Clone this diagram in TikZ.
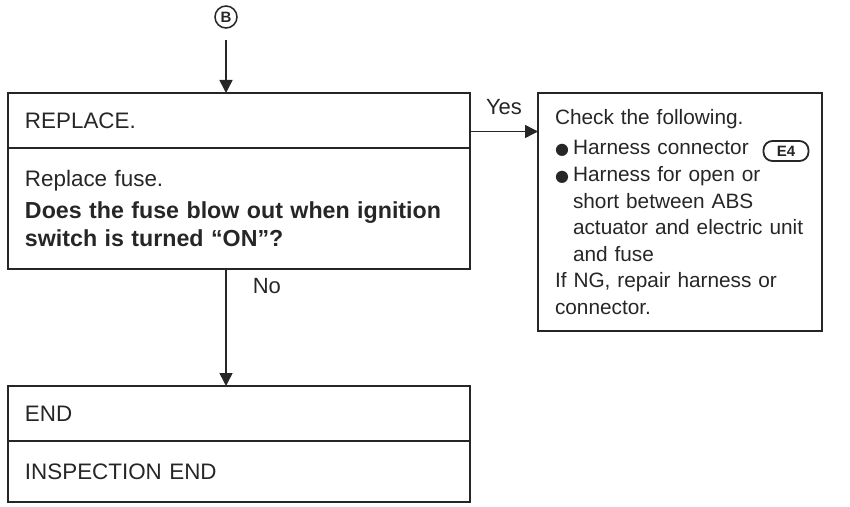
\documentclass[tikz,border=0pt]{standalone}
\usepackage{fontspec}
\setmainfont{Liberation Sans}
\newfontfamily\symfont{DejaVu Sans}
\usetikzlibrary{arrows.meta,positioning}
\usepackage{xcolor}
\definecolor{Ink}{HTML}{262626}
\newcommand{\blt}{\makebox[9pt][l]{\symfont\fontsize{8}{8}\selectfont ●}}
\newcommand{\ind}{\hspace*{9pt}}
\newcommand{\boldline}[1]{{\bfseries\fontsize{11.6}{14}\selectfont #1}}

\begin{document}
\begin{tikzpicture}[x=0.5pt,y=-0.5pt,line width=0.75pt,draw=Ink,text=Ink,
    box/.style={draw,rectangle,outer sep=0pt,inner xsep=8.5pt,inner ysep=0pt,
      align=left,text width=214pt,minimum height=#1,
      font=\fontsize{11.2}{14}\selectfont},
    arr/.style={-{Triangle[length=6.5pt,width=6.5pt]}},
    lbl/.style={inner sep=0pt,font=\fontsize{11}{13}\selectfont}]
    \useasboundingbox (0,0) rectangle (850,507);

    % start connector
    \node[circle,draw,minimum size=11pt,inner sep=0pt,
      font=\bfseries\fontsize{7.5}{7.5}\selectfont] (B) at (226,17) {B};

    % replace step
    \node[box=27.5pt] (replace) at (239,120.5) {REPLACE.};
    \node[box=60.5pt,below=0pt of replace] (fuse) {Replace fuse.\\[2pt]
      \boldline{Does the fuse blow out when ignition}\\
      \boldline{switch is turned ``ON''?}};

    % end step
    \node[box=27.5pt] (endhdr) at (239,413.5) {END};
    \node[box=30.5pt,below=0pt of endhdr] (endbody) {INSPECTION END};

    % check list
    \node[box=119pt,text width=125pt,font=\fontsize{10.4}{13.3}\selectfont]
      (check) at (680,212)
      {Check the following.\\[2pt]
      \blt Harness connector\\
      \blt Harness for open or\\
      \ind short between ABS\\
      \ind\mbox{actuator and electric unit}\\
      \ind and fuse\\
      If NG, repair harness or\\
      connector.};
    \node[draw,rounded corners=4.5pt,minimum width=22.5pt,minimum height=10pt,
      inner sep=0pt,line width=0.9pt,
      font=\bfseries\fontsize{7.5}{7.5}\selectfont] (E4) at (786,151) {E4};

    % connectors
    \draw[arr,shorten <=5.5pt] (B) -- (B |- replace.north);
    \coordinate (yesfrom) at ([yshift=-5.5pt]replace.east);
    \draw[arr] (yesfrom) -- (yesfrom -| check.west)
      node[midway,above=8pt,lbl]{Yes};
    \coordinate (nofrom) at (B |- fuse.south);
    \draw[arr] (nofrom) -- (B |- endhdr.north);
    \node[lbl,anchor=north west] (no) at ([xshift=13pt,yshift=-4.5pt]nofrom) {No};
  \end{tikzpicture}
\end{document}
